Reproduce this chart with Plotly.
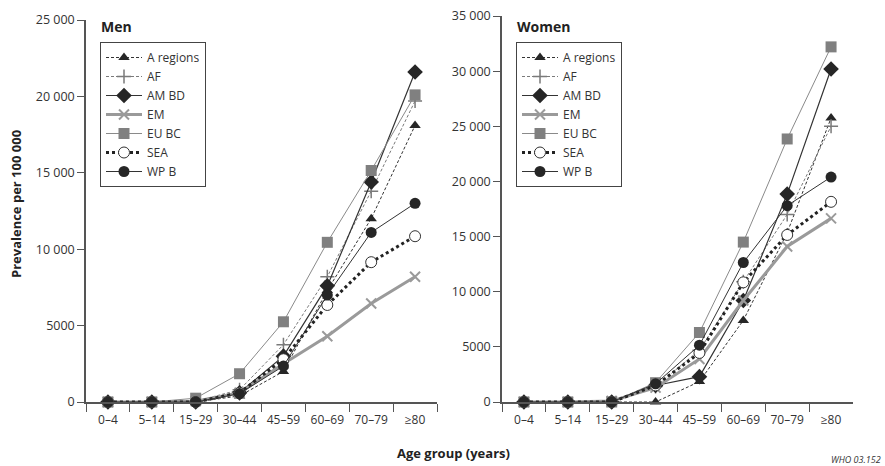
import plotly.graph_objects as go

ages = ["0–4", "5–14", "15–29", "30–44", "45–59", "60–69", "70–79", "≥80"]
series_names = ["A regions", "AF", "AM BD", "EM", "EU BC", "SEA", "WP B"]

men_a_regions = [0, 0, 0, 400, 2000, 7300, 12000, 18100]
men_af = [0, 0, 50, 800, 3750, 8200, 13800, 19700]
men_am_bd = [0, 0, 0, 600, 3000, 7600, 14400, 21600]
men_em = [0, 0, 50, 600, 2500, 4300, 6450, 8200]
men_eu_bc = [0, 0, 250, 1850, 5250, 10450, 15150, 20100]
men_sea = [0, 0, 0, 600, 2800, 6350, 9150, 10850]
men_wp_b = [0, 0, 0, 550, 2350, 7000, 11100, 13000]

women_a_regions = [0, 0, 0, 0, 1850, 7400, 15350, 25750]
women_af = [0, 0, 0, 1400, 4700, 10900, 17000, 25000]
women_am_bd = [0, 0, 0, 1500, 2300, 9200, 18850, 30200]
women_em = [0, 0, 100, 1300, 3900, 9200, 14100, 16650]
women_eu_bc = [0, 0, 0, 1750, 6300, 14500, 23850, 32200]
women_sea = [0, 0, 0, 1500, 4450, 10850, 15150, 18150]
women_wp_b = [0, 0, 0, 1650, 5150, 12650, 17800, 20400]

men_ticks = [0, 5000, 10000, 15000, 20000, 25000]
men_ticktext = ["0", "5000", "10 000", "15 000", "20 000", "25 000"]
women_ticks = [0, 5000, 10000, 15000, 20000, 25000, 30000, 35000]
women_ticktext = ["0", "5000", "10 000", "15 000", "20 000", "25 000", "30 000", "35 000"]

styles = {
    "A regions": dict(line=dict(color="#333333", width=1, dash="3px,2px"),
                      marker=dict(symbol="triangle-up", size=10, color="#262626")),
    "AF": dict(line=dict(color="#7a7a7a", width=1, dash="3px,2px"),
               marker=dict(symbol="cross-thin", size=10, color="#7a7a7a",
                           line=dict(color="#7a7a7a", width=1.5))),
    "AM BD": dict(line=dict(color="#333333", width=1.2),
                  marker=dict(symbol="diamond", size=12, color="#262626")),
    "EM": dict(line=dict(color="#9a9a9a", width=3),
               marker=dict(symbol="x-thin", size=10, color="#9a9a9a",
                           line=dict(color="#9a9a9a", width=2))),
    "EU BC": dict(line=dict(color="#8a8a8a", width=1),
                  marker=dict(symbol="square", size=11, color="#808080")),
    "SEA": dict(line=dict(color="#222222", width=3, dash="3px,3px"),
                marker=dict(symbol="circle", size=11, color="white",
                            line=dict(color="#333333", width=1))),
    "WP B": dict(line=dict(color="#333333", width=1),
                 marker=dict(symbol="circle", size=11, color="#262626")),
}

men_values = [men_a_regions, men_af, men_am_bd, men_em, men_eu_bc, men_sea, men_wp_b]
women_values = [women_a_regions, women_af, women_am_bd, women_em, women_eu_bc, women_sea, women_wp_b]

W, H = 885, 466
fig = go.Figure()

for name, vals in zip(series_names, men_values):
    st = styles[name]
    fig.add_trace(go.Scatter(x=ages, y=vals, name=name, mode="lines+markers",
                             line=st["line"], marker=st["marker"], cliponaxis=False,
                             xaxis="x", yaxis="y", legend="legend"))
for name, vals in zip(series_names, women_values):
    st = styles[name]
    fig.add_trace(go.Scatter(x=ages, y=vals, name=name, mode="lines+markers",
                             line=st["line"], marker=st["marker"], cliponaxis=False,
                             xaxis="x2", yaxis="y2", legend="legend2"))

tick_family = "Open Sans, Liberation Sans, sans-serif"
xtick_font = dict(family=tick_family, size=12, color="#333333")
ytick_font = dict(family=tick_family, size=12.5, color="#333333")
axis_color = "#555555"

xcommon = dict(type="category", categoryorder="array", categoryarray=ages,
               tickson="boundaries", ticks="outside", ticklen=8, tickcolor=axis_color,
               tickwidth=1.2, showline=True, linecolor=axis_color, linewidth=1.5,
               showgrid=False, zeroline=False, range=[-0.5, 7.5], tickfont=xtick_font,
               automargin=False, fixedrange=True, ticklabelstandoff=6)
ycommon = dict(ticks="outside", ticklen=7, tickcolor=axis_color, tickwidth=1.2,
               showline=True, linecolor=axis_color, linewidth=1.5, showgrid=False,
               zeroline=False, tickfont=ytick_font, automargin=False, ticklabelstandoff=0)

legend_common = dict(xanchor="left", yanchor="top", bordercolor="#444444", borderwidth=1,
                     bgcolor="white", font=dict(family=tick_family, size=12, color="#333333"),
                     tracegroupgap=0, itemwidth=36)

fig.update_layout(
    width=W, height=H,
    margin=dict(l=0, r=0, t=0, b=0),
    paper_bgcolor="white", plot_bgcolor="white",
    font=dict(family=tick_family, color="#333333"),
    xaxis=dict(domain=[86 / W, 437 / W], anchor="y", **xcommon),
    xaxis2=dict(domain=[502 / W, 853 / W], anchor="y2", **xcommon),
    yaxis=dict(domain=[1 - 402 / H, 1 - 20 / H], anchor="x", range=[0, 25000],
               tickvals=men_ticks, ticktext=men_ticktext, **ycommon),
    yaxis2=dict(domain=[1 - 402 / H, 1 - 16 / H], anchor="x2", range=[0, 35000],
                tickvals=women_ticks, ticktext=women_ticktext, **ycommon),
    legend=dict(x=100 / W, y=1 - 42 / H, **legend_common),
    legend2=dict(x=516 / W, y=1 - 42 / H, **legend_common),
    showlegend=True,
    annotations=[
        dict(text="<b>Men</b>", x=99 / W, y=1 - 27 / H, xref="paper", yref="paper",
             xanchor="left", yanchor="middle", showarrow=False,
             font=dict(family=tick_family, size=14, color="#222222")),
        dict(text="<b>Women</b>", x=515 / W, y=1 - 27 / H, xref="paper", yref="paper",
             xanchor="left", yanchor="middle", showarrow=False,
             font=dict(family=tick_family, size=14, color="#222222")),
        dict(text="<b>Prevalence per 100 000</b>", x=16 / W, y=1 - 204 / H,
             xref="paper", yref="paper", xanchor="center", yanchor="middle",
             textangle=-90, showarrow=False,
             font=dict(family=tick_family, size=13, color="#222222")),
        dict(text="<b>Age group (years)</b>", x=453 / W, y=1 - 453 / H,
             xref="paper", yref="paper", xanchor="center", yanchor="middle",
             showarrow=False, font=dict(family=tick_family, size=13, color="#222222")),
        dict(text="<i>WHO 03.152</i>", x=883 / W, y=1 - 459 / H,
             xref="paper", yref="paper", xanchor="right", yanchor="middle",
             showarrow=False, font=dict(family=tick_family, size=9, color="#333333")),
    ],
)

fig.write_html("out.html",
               config={"displayModeBar": False},
               post_script="document.body.style.margin='0px';document.body.style.padding='0px';document.body.style.overflow='hidden';")
